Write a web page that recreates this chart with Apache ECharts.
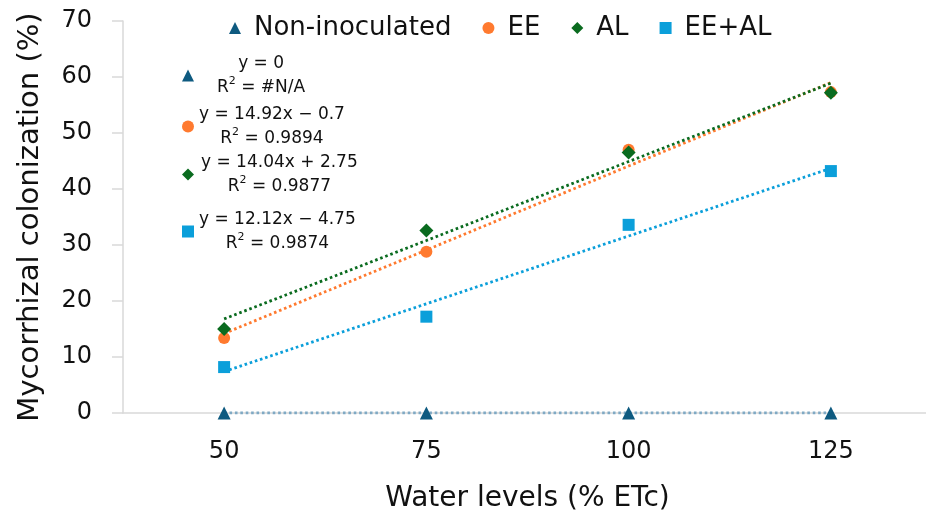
<!DOCTYPE html>
<html>
<head>
<meta charset="utf-8">
<script src="https://cdn.jsdelivr.net/npm/echarts@6/dist/echarts.min.js"></script>
<style>
  html, body { margin: 0; padding: 0; background: #fff; }
  #chart { width: 926px; height: 520px; }
</style>
</head>
<body>
<div id="chart"></div>
<script>
// values
const waterLevels = ['50', '75', '100', '125'];
const nonInoculated = [0, 0, 0, 0];
const ee = [13.4, 28.8, 47.0, 57.3];
const al = [15.0, 32.6, 46.5, 57.2];
const eeAl = [8.2, 17.2, 33.6, 43.2];

// linear trendlines (values at each water level)
const nonInoculatedTrend = [0, 0, 0, 0];
const eeTrend = [14.2, 29.1, 44.1, 59.0];
const alTrend = [16.8, 30.8, 44.9, 58.9];
const eeAlTrend = [7.4, 19.5, 31.6, 43.7];

const seriesNames = ['Non-inoculated', 'EE', 'AL', 'EE+AL'];
const equations = ['y = 0', 'y = 14.92x − 0.7', 'y = 14.04x + 2.75', 'y = 12.12x − 4.75'];
const rSquared = ['#N/A', '0.9894', '0.9877', '0.9874'];

const colors = ['#0E5A80', '#FF7A2F', '#0A6B1F', '#0B9FDA'];
const trendColors = ['#7FA9C4', '#FF7A2F', '#0A6B1F', '#0B9FDA'];
const symbols = ['triangle', 'circle', 'diamond', 'rect'];
const symbolSizes = [13, 12, 14, 12];
const points = [nonInoculated, ee, al, eeAl];
const trends = [nonInoculatedTrend, eeTrend, alTrend, eeAlTrend];

const FONT = 'DejaVu Sans';

const chart = echarts.init(document.getElementById('chart'), null, { renderer: 'canvas' });

// small legend blocks that carry the trendline equations
const eqLegend = (i, top, padLeft) => ({
  data: [seriesNames[i]],
  left: 182,
  top: top,
  padding: 0,
  itemWidth: 12,
  itemHeight: 12,
  selectedMode: false,
  formatter: () => `{t|${equations[i]}}\n{t|R}{s|2}{t| = ${rSquared[i]}}`,
  textStyle: {
    padding: [0, 0, 0, padLeft],
    rich: {
      t: { fontFamily: FONT, fontSize: 17, color: '#111', lineHeight: 24, align: 'center' },
      s: { fontFamily: FONT, fontSize: 11, color: '#111', lineHeight: 18, align: 'center', verticalAlign: 'top' }
    }
  }
});

const option = {
  animation: false,
  grid: {
    left: 123,
    top: 21,
    width: 809,
    height: 392,
    containLabel: false,
    outerBoundsMode: 'none'
  },
  legend: [
    {
      data: seriesNames,
      left: 229,
      top: 15,
      padding: 0,
      itemWidth: 12,
      itemHeight: 12,
      itemGap: 31,
      textStyle: { fontFamily: FONT, fontSize: 26, color: '#111', padding: [0, 0, 0, 8] }
    },
    eqLegend(0, 55, 18),
    eqLegend(1, 106, 0),
    eqLegend(2, 154, 2),
    eqLegend(3, 211, 0)
  ],
  xAxis: {
    type: 'category',
    data: waterLevels,
    boundaryGap: true,
    name: 'Water levels (% ETc)',
    nameLocation: 'middle',
    nameGap: 72,
    nameTextStyle: { fontFamily: FONT, fontSize: 28, color: '#111' },
    axisLine: { lineStyle: { color: '#D9D9D9', width: 1.5 } },
    axisTick: { show: false },
    axisLabel: { fontFamily: FONT, fontSize: 24, color: '#111', margin: 27 },
    splitLine: { show: false }
  },
  yAxis: {
    type: 'value',
    min: 0,
    max: 70,
    interval: 10,
    name: 'Mycorrhizal colonization (%)',
    nameLocation: 'middle',
    nameGap: 78,
    nameTextStyle: { fontFamily: FONT, fontSize: 29, color: '#111' },
    axisLine: { show: true, lineStyle: { color: '#D9D9D9', width: 1.5 } },
    axisTick: { show: true, inside: false, length: 11, lineStyle: { color: '#D9D9D9', width: 1.5 } },
    axisLabel: { fontFamily: FONT, fontSize: 24, color: '#111', margin: 31 },
    splitLine: { show: false }
  },
  series: [
    ...trends.map((d, i) => ({
      name: seriesNames[i] + ' trend',
      type: 'line',
      data: d,
      showSymbol: false,
      z: 2,
      silent: true,
      lineStyle: { color: trendColors[i], width: 2.8, type: [2.6, 2.8] }
    })),
    ...points.map((d, i) => ({
      name: seriesNames[i],
      type: 'scatter',
      data: d,
      symbol: symbols[i],
      symbolSize: symbolSizes[i],
      z: 3,
      itemStyle: { color: colors[i], opacity: 1 }
    }))
  ]
};

chart.setOption(option);
</script>
</body>
</html>
